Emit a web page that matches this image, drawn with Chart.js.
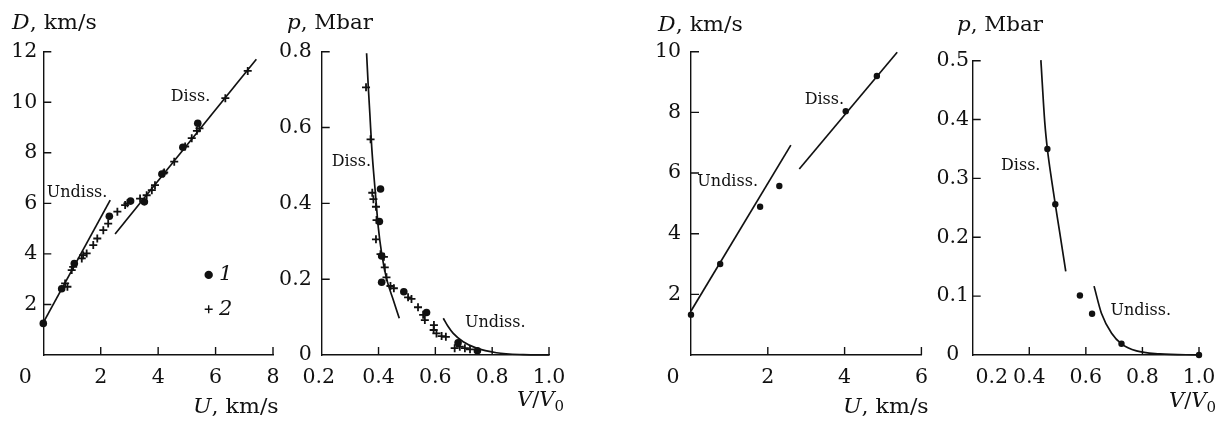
<!DOCTYPE html>
<html><head><meta charset="utf-8">
<script src="https://cdn.jsdelivr.net/npm/chart.js@4"></script>
<style>
body{margin:0;background:#fff;width:1222px;height:427px;overflow:hidden;position:relative;font-family:"DejaVu Serif",serif;color:#111}
canvas{position:absolute;top:0}
.t{position:absolute;font-size:21px;line-height:26px;white-space:nowrap;transform-origin:left center}
.t sub{font-size:15px;vertical-align:-5px;line-height:0}
</style></head><body>
<canvas id="c1"></canvas><canvas id="c2"></canvas><canvas id="c3"></canvas><canvas id="c4"></canvas>
<div class="t" style="left:12px;top:9px;transform:scaleX(1.05)"><i>D</i>, km/s</div>
<div class="t" style="left:287px;top:9px;transform:scaleX(1.02)"><i>p</i>, Mbar</div>
<div class="t" style="left:658px;top:11px;transform:scaleX(1.05)"><i>D</i>, km/s</div>
<div class="t" style="left:957px;top:11px;transform:scaleX(1.02)"><i>p</i>, Mbar</div>
<div class="t" style="left:193px;top:393px;transform:scaleX(1.05)"><i>U</i>, km/s</div>
<div class="t" style="left:843px;top:393px;transform:scaleX(1.05)"><i>U</i>, km/s</div>
<div class="t" style="left:517px;top:386px"><i>V</i>/<i>V</i><sub>0</sub></div>
<div class="t" style="left:1169px;top:387px"><i>V</i>/<i>V</i><sub>0</sub></div>
<script>
// ---------- Panel 1: D vs U (series 1 = dots, series 2 = crosses) ----------
const p1DotsU  = [0, 0.64, 1.08, 2.3, 3.04, 3.52, 4.13, 4.86, 5.38];
const p1DotsD  = [1.25, 2.62, 3.62, 5.49, 6.09, 6.06, 7.16, 8.22, 9.17];
const p1CrossU = [0.76,0.84,0.99,1.04,1.34,1.39,1.51,1.74,1.88,2.09,2.26,2.58,2.85,2.93,3.37,3.6,3.78,3.89,4.18,4.21,4.56,4.94,5.17,5.35,5.44,6.34,7.12];
const p1CrossD = [2.83,2.7,3.36,3.49,3.82,3.95,4.02,4.35,4.61,4.94,5.2,5.67,5.93,6.0,6.19,6.32,6.52,6.72,7.18,7.22,7.65,8.25,8.58,8.87,8.97,10.16,11.24];
const p1UndissU = [0, 2.33];
const p1UndissD = [1.28, 6.13];
const p1DissU = [2.5, 7.42];
const p1DissD = [4.79, 11.7];
const p1XTicks = [0, 2, 4, 6, 8];
const p1YTicks = [0, 2, 4, 6, 8, 10, 12];

// ---------- Panel 2: p vs V/V0 ----------
const p2DotsV  = [0.407, 0.403, 0.411, 0.411, 0.489, 0.569, 0.68, 0.748];
const p2DotsP  = [0.438, 0.352, 0.261, 0.192, 0.167, 0.112, 0.032, 0.011];
const p2CrossV = [0.356,0.372,0.378,0.382,0.391,0.393,0.391,0.407,0.419,0.422,0.428,0.442,0.454,0.504,0.516,0.539,0.563,0.557,0.595,0.594,0.604,0.622,0.637,0.668,0.686,0.704,0.722];
const p2CrossP = [0.706,0.569,0.428,0.411,0.391,0.356,0.305,0.266,0.259,0.231,0.205,0.182,0.176,0.152,0.148,0.126,0.092,0.106,0.079,0.066,0.057,0.050,0.048,0.018,0.022,0.018,0.015];
const p2DissV = [0.358,0.364,0.370,0.376,0.382,0.390,0.399,0.411,0.428,0.452,0.473];
const p2DissP = [0.796,0.707,0.629,0.549,0.488,0.418,0.338,0.268,0.202,0.145,0.097];
const p2UndissV = [0.628,0.645,0.663,0.698,0.745,0.815,0.909,1.0];
const p2UndissP = [0.097,0.075,0.057,0.035,0.018,0.006,0.001,0];
const p2XTicks = [0.2, 0.4, 0.6, 0.8, 1.0];
const p2YTicks = [0, 0.2, 0.4, 0.6, 0.8];

// ---------- Panel 3: D vs U ----------
const p3DotsU = [0, 0.76, 1.8, 2.3, 4.03, 4.84];
const p3DotsD = [1.33, 3.0, 4.89, 5.57, 8.04, 9.2];
const p3UndissU = [0, 2.6];
const p3UndissD = [1.45, 6.92];
const p3DissU = [2.82, 5.37];
const p3DissD = [6.13, 9.98];
const p3XTicks = [0, 2, 4, 6];
const p3YTicks = [0, 2, 4, 6, 8, 10];

// ---------- Panel 4: p vs V/V0 ----------
const p4DotsV = [0.464, 0.492, 0.579, 0.622, 0.726, 1.0];
const p4DotsP = [0.35, 0.256, 0.101, 0.07, 0.019, 0];
const p4DissV = [0.441, 0.455, 0.464, 0.479, 0.492, 0.508, 0.529];
const p4DissP = [0.501, 0.394, 0.35, 0.297, 0.256, 0.207, 0.142];
const p4UndissV = [0.629, 0.655, 0.691, 0.726, 0.779, 0.861, 1.0];
const p4UndissP = [0.117, 0.071, 0.037, 0.019, 0.007, 0.002, 0];
const p4XTicks = [0.2, 0.4, 0.6, 0.8, 1.0];
const p4YTicks = [0, 0.1, 0.2, 0.3, 0.4, 0.5];

const LABEL_DISS = 'Diss.';
const LABEL_UNDISS = 'Undiss.';

// ---------- helpers ----------
const INK = '#111';
const FONT = '"DejaVu Serif"';
const zip = (xs, ys) => xs.map((x, i) => ({x, y: ys[i]}));
const intFmt = v => String(v);
const decFmt = v => v === 0 ? '0' : v.toFixed(1);
const skipZero = v => v === 0 ? '' : String(v);

function drawText(ctx, txt, x, y, align, font) {
  ctx.save();
  ctx.font = font;
  ctx.textBaseline = 'middle';
  ctx.textAlign = align;
  ctx.fillText(txt, x, y);
  ctx.restore();
}

const paperPlugin = {
  id: 'paper',
  afterDraw(chart, args, o) {
    const ctx = chart.ctx, xs = chart.scales.x, ys = chart.scales.y, a = chart.chartArea;
    ctx.save();
    ctx.strokeStyle = INK; ctx.fillStyle = INK; ctx.lineWidth = 1.4;
    ctx.beginPath();
    xs.ticks.forEach(t => {
      if (t.value === xs.min) return;
      const px = xs.getPixelForValue(t.value);
      ctx.moveTo(px, a.bottom); ctx.lineTo(px, a.bottom - 8);
    });
    ys.ticks.forEach(t => {
      if (t.value === ys.min) return;
      const py = ys.getPixelForValue(t.value);
      ctx.moveTo(a.left, py); ctx.lineTo(a.left + 8, py);
    });
    ctx.stroke();
    const tf = '20.5px ' + FONT;
    xs.ticks.forEach(t => {
      let px = xs.getPixelForValue(t.value);
      if (t.value === xs.min) px += o.xMinShift;
      drawText(ctx, o.xFmt(t.value), px, a.bottom + 23, 'center', tf);
    });
    ys.ticks.forEach(t => {
      const lbl = o.yFmt(t.value);
      if (!lbl) return;
      drawText(ctx, lbl, a.left - o.yPad, ys.getPixelForValue(t.value), o.yAlign, tf);
    });
    (o.notes || []).forEach(n => {
      drawText(ctx, n.text, xs.getPixelForValue(n.x), ys.getPixelForValue(n.y), 'left', '16px ' + FONT);
    });
    if (o.key) {
      const k = o.key;
      const kx = xs.getPixelForValue(k.x);
      const y1 = ys.getPixelForValue(k.y1), y2 = ys.getPixelForValue(k.y2);
      ctx.beginPath(); ctx.arc(kx, y1, 4.2, 0, Math.PI * 2); ctx.fill();
      ctx.lineWidth = 1.4;
      ctx.beginPath(); ctx.moveTo(kx - 4, y2); ctx.lineTo(kx + 4, y2); ctx.moveTo(kx, y2 - 4); ctx.lineTo(kx, y2 + 4); ctx.stroke();
      drawText(ctx, '1', xs.getPixelForValue(k.tx), y1, 'left', 'italic 21px ' + FONT);
      drawText(ctx, '2', xs.getPixelForValue(k.tx), y2, 'left', 'italic 21px ' + FONT);
    }
    ctx.restore();
  }
};

function lineDs(xs, ys, curved) {
  return {data: zip(xs, ys), showLine: true, pointRadius: 0, borderColor: INK, borderWidth: 1.7,
          cubicInterpolationMode: curved ? 'monotone' : 'default', tension: 0, clip: false};
}
function dotDs(xs, ys, r) {
  return {data: zip(xs, ys), showLine: false, pointStyle: 'circle', pointRadius: r,
          backgroundColor: INK, borderColor: INK, borderWidth: 0, clip: false};
}
function crossDs(xs, ys) {
  return {data: zip(xs, ys), showLine: false, pointStyle: 'cross', pointRadius: 4,
          borderColor: INK, borderWidth: 1.8, clip: false};
}

function makeChart(id, p) {
  const cv = document.getElementById(id);
  cv.width = p.w; cv.height = 427;
  cv.style.left = p.left + 'px'; cv.style.width = p.w + 'px'; cv.style.height = '427px';
  return new Chart(cv, {
    type: 'scatter',
    data: {datasets: p.datasets},
    plugins: [paperPlugin],
    options: {
      responsive: false, animation: false, events: [],
      layout: {padding: {left: 0, right: p.right, top: p.top, bottom: 0}},
      plugins: {legend: {display: false}, tooltip: {enabled: false}, paper: p.paper},
      scales: {
        x: {type: 'linear', min: p.xTicks[0], max: p.xTicks[p.xTicks.length - 1],
            afterBuildTicks: s => { s.ticks = p.xTicks.map(v => ({value: v})); },
            afterFit: s => { s.height = 72; },
            grid: {display: false, drawTicks: false}, ticks: {display: false},
            border: {display: true, color: INK, width: 1.4}},
        y: {type: 'linear', min: p.yTicks[0], max: p.yTicks[p.yTicks.length - 1],
            afterBuildTicks: s => { s.ticks = p.yTicks.map(v => ({value: v})); },
            afterFit: s => { s.width = p.yW; },
            grid: {display: false, drawTicks: false}, ticks: {display: false},
            border: {display: true, color: INK, width: 1.4}}
      }
    }
  });
}

makeChart('c1', {
  left: 0, w: 290, yW: 43.3, right: 17, top: 51.7, xTicks: p1XTicks, yTicks: p1YTicks,
  datasets: [lineDs(p1UndissU, p1UndissD), lineDs(p1DissU, p1DissD),
             crossDs(p1CrossU, p1CrossD), dotDs(p1DotsU, p1DotsD, 3.8)],
  paper: {xFmt: intFmt, yFmt: skipZero, xMinShift: -18, yPad: 6, yAlign: 'right',
          notes: [{text: LABEL_UNDISS, x: 0.12, y: 6.42}, {text: LABEL_DISS, x: 4.44, y: 10.22}],
          key: {x: 5.76, y1: 3.17, y2: 1.81, tx: 6.12}}
});
makeChart('c2', {
  left: 255, w: 335, yW: 66.7, right: 41, top: 51.7, xTicks: p2XTicks, yTicks: p2YTicks,
  datasets: [lineDs(p2DissV, p2DissP, true), lineDs(p2UndissV, p2UndissP, true),
             crossDs(p2CrossV, p2CrossP), dotDs(p2DotsV, p2DotsP, 3.8)],
  paper: {xFmt: decFmt, yFmt: decFmt, xMinShift: -3, yPad: 10, yAlign: 'right',
          notes: [{text: LABEL_DISS, x: 0.235, y: 0.51}, {text: LABEL_UNDISS, x: 0.704, y: 0.084}]}
});
makeChart('c3', {
  left: 620, w: 310, yW: 71, right: 8.6, top: 51.7, xTicks: p3XTicks, yTicks: p3YTicks,
  datasets: [lineDs(p3UndissU, p3UndissD), lineDs(p3DissU, p3DissD), dotDs(p3DotsU, p3DotsD, 3.2)],
  paper: {xFmt: intFmt, yFmt: skipZero, xMinShift: -18, yPad: 10, yAlign: 'right',
          notes: [{text: LABEL_UNDISS, x: 0.165, y: 5.71}, {text: LABEL_DISS, x: 2.96, y: 8.41}]}
});
makeChart('c4', {
  left: 920, w: 302, yW: 52.7, right: 23, top: 60.7, xTicks: p4XTicks, yTicks: p4YTicks,
  datasets: [lineDs(p4DissV, p4DissP, true), lineDs(p4UndissV, p4UndissP, true), dotDs(p4DotsV, p4DotsP, 3.2)],
  paper: {xFmt: decFmt, yFmt: decFmt, xMinShift: 19, yPad: 20, yAlign: 'center',
          notes: [{text: LABEL_DISS, x: 0.3, y: 0.322}, {text: LABEL_UNDISS, x: 0.687, y: 0.075}]}
});
</script>
</body></html>
